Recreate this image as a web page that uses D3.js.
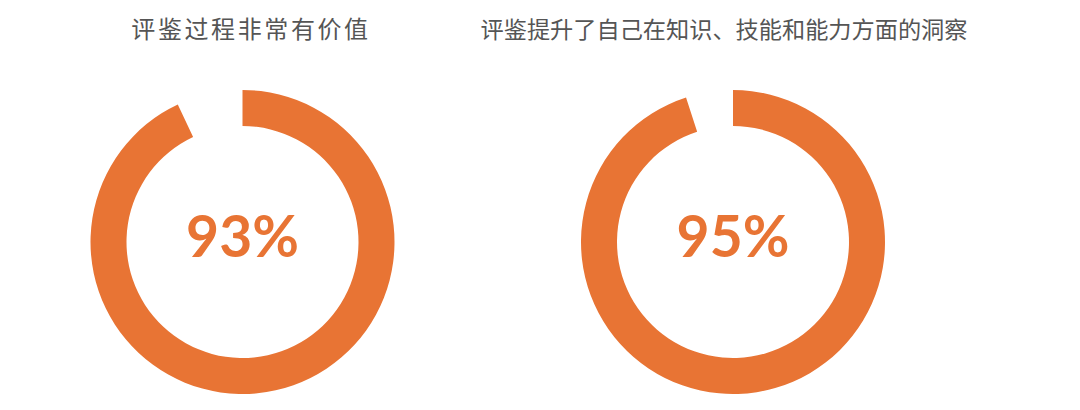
<!DOCTYPE html>
<html>
<head>
<meta charset="utf-8">
<script src="https://cdn.jsdelivr.net/npm/d3@7"></script>
<style>
  body { margin: 0; background: #fff; }
</style>
</head>
<body>
<svg id="chart" width="1080" height="410"></svg>
<script>
// data
var titles = ["评鉴过程非常有价值", "评鉴提升了自己在知识、技能和能力方面的洞察"];
var values = [93, 95];
var labels = ["93%", "95%"];

var width = 1080, height = 410, color = "#e87434";
var centersX = [242.5, 733];
var titleX = [251, 724];
var titleSize = [24, 23.2];
var spacing = [2.6, 0];
var centerY = 242, outerR = 152, innerR = 116;

var svg = d3.select("#chart");

var angle = d3.scaleLinear().domain([0, 100]).range([0, 2 * Math.PI]);

var arc = d3.arc()
    .innerRadius(innerR)
    .outerRadius(outerR)
    .startAngle(0)
    .endAngle(function(d){ return angle(d); });

var g = svg.selectAll("g.donut").data(values).enter().append("g")
    .attr("class", "donut")
    .attr("transform", function(d, i){
        return "translate(" + centersX[i] + "," + centerY + ")";
    });

g.append("path")
    .attr("d", arc)
    .attr("fill", color);

g.append("text")
    .attr("x", 0)
    .attr("y", -5)
    .attr("dy", ".35em")
    .attr("text-anchor", "middle")
    .attr("font-family", "Lato, 'DejaVu Sans', sans-serif")
    .attr("font-weight", 700)
    .attr("font-size", 57)
    .attr("fill", color)
    .text(function(d, i){ return labels[i]; });

svg.selectAll("text.title").data(titles).enter().append("text")
    .attr("class", "title")
    .attr("x", function(d, i){ return titleX[i]; })
    .attr("y", 38)
    .attr("text-anchor", "middle")
    .attr("font-family", "'Noto Sans CJK SC', sans-serif")
    .attr("font-size", function(d, i){ return titleSize[i]; })
    .attr("letter-spacing", function(d, i){ return spacing[i]; })
    .attr("fill", "#555")
    .text(function(d){ return d; });
</script>
</body>
</html>
